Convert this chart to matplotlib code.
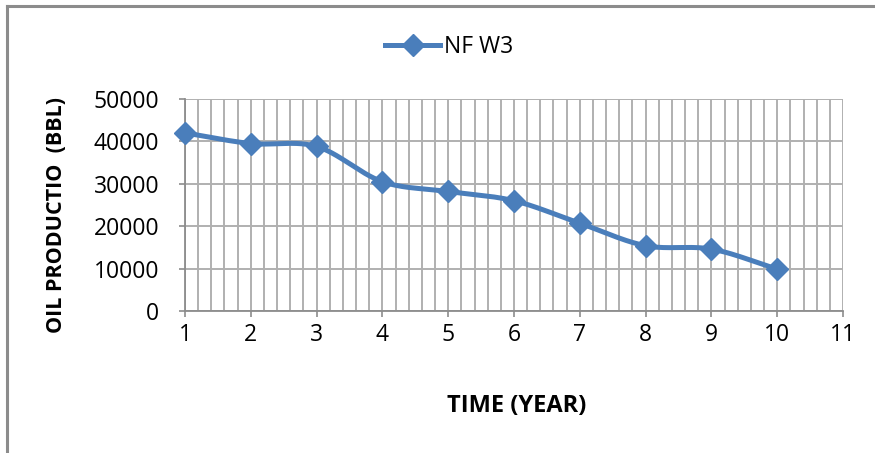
import numpy as np
import matplotlib
matplotlib.use("Agg")
import matplotlib.pyplot as plt
from matplotlib.lines import Line2D

# Annual oil production of well NF W3
years = [1, 2, 3, 4, 5, 6, 7, 8, 9, 10]
production = [42000, 39500, 38800, 30500, 28200, 26000, 20700, 15400, 14600, 9900]
series_name = "NF W3"
x_ticks = list(range(1, 12))
y_ticks = [0, 10000, 20000, 30000, 40000, 50000]

LINE_COLOR = "#4a7ebb"
GRID_COLOR = "#b0b0b0"
FONT = ["Open Sans", "DejaVu Sans"]
FS = 16.5


def catmull_rom(xs, ys, n=30):
    """Smooth curve through the given points (Catmull-Rom spline)."""
    xs = np.asarray(xs, float)
    ys = np.asarray(ys, float)
    px = np.concatenate([[2 * xs[0] - xs[1]], xs, [2 * xs[-1] - xs[-2]]])
    py = np.concatenate([[2 * ys[0] - ys[1]], ys, [2 * ys[-1] - ys[-2]]])
    out_x, out_y = [], []
    for i in range(1, len(px) - 2):
        t = np.linspace(0, 1, n, endpoint=False)
        for arr, p in ((out_x, px), (out_y, py)):
            p0, p1, p2, p3 = p[i - 1], p[i], p[i + 1], p[i + 2]
            arr.extend(0.5 * ((2 * p1) + (-p0 + p2) * t
                              + (2 * p0 - 5 * p1 + 4 * p2 - p3) * t ** 2
                              + (-p0 + 3 * p1 - 3 * p2 + p3) * t ** 3))
    out_x.append(xs[-1])
    out_y.append(ys[-1])
    return np.array(out_x), np.array(out_y)


W, H = 875, 453
fig = plt.figure(figsize=(W / 100, H / 100), dpi=100)
fig.patch.set_facecolor("white")

# chart frame (top and left edges)
fig.add_artist(Line2D([7 / W, 1.0], [1 - 6 / H, 1 - 6 / H], color="#8c8c8c", lw=2.2))
fig.add_artist(Line2D([7 / W, 7 / W], [1 - 6 / H, 0.0], color="#8c8c8c", lw=2.2))

left, right = 185 / W, 843 / W
bottom, top = 1 - 311 / H, 1 - 99 / H
ax = fig.add_axes([left, bottom, right - left, top - bottom])

ax.set_xlim(1, 11)
ax.set_ylim(0, 50000)
ax.set_xticks(x_ticks)
ax.set_xticks(np.arange(1, 11.01, 0.2), minor=True)
ax.set_yticks(y_ticks)

ax.grid(which="major", axis="both", color=GRID_COLOR, lw=1.4)
ax.grid(which="minor", axis="x", color=GRID_COLOR, lw=1.4)
ax.set_axisbelow(True)

for s in ("top", "right"):
    ax.spines[s].set_visible(False)
for s in ("left", "bottom"):
    ax.spines[s].set_color("#8c8c8c")
    ax.spines[s].set_linewidth(1.3)

ax.tick_params(axis="both", which="major", length=4.5, width=1.2, color="#8c8c8c",
               labelsize=FS)
ax.tick_params(axis="x", which="major", pad=4)
ax.tick_params(axis="x", which="minor", length=0)
ax.tick_params(axis="y", which="major", pad=14)
for lab in ax.get_xticklabels() + ax.get_yticklabels():
    lab.set_fontfamily(FONT)

sx, sy = catmull_rom(years, production)
ax.plot(sx, sy, color=LINE_COLOR, lw=3.6, solid_capstyle="round", zorder=3)
ax.plot(years, production, ls="none", marker="D", ms=11.5, color=LINE_COLOR,
        zorder=4, clip_on=False)

fig.text(517 / W, 1 - 406 / H, "TIME (YEAR)", fontsize=FS + 0.5, fontweight="bold",
         family=FONT, ha="center", va="center")
fig.text(57 / W, 1 - 215 / H, "OIL PRODUCTIO  (BBL)", fontsize=FS - 1, fontweight="bold",
         family=FONT, ha="center", va="center", rotation=90)

handle = Line2D([], [], color=LINE_COLOR, lw=3.6, marker="D", ms=11.5)
fig.legend([handle], [series_name], loc="center", bbox_to_anchor=(449 / W, 1 - 47 / H),
           frameon=False, prop={"family": FONT, "size": FS}, handlelength=2.4,
           handletextpad=0.15)

fig.savefig("out.png", dpi=100, facecolor="white")
